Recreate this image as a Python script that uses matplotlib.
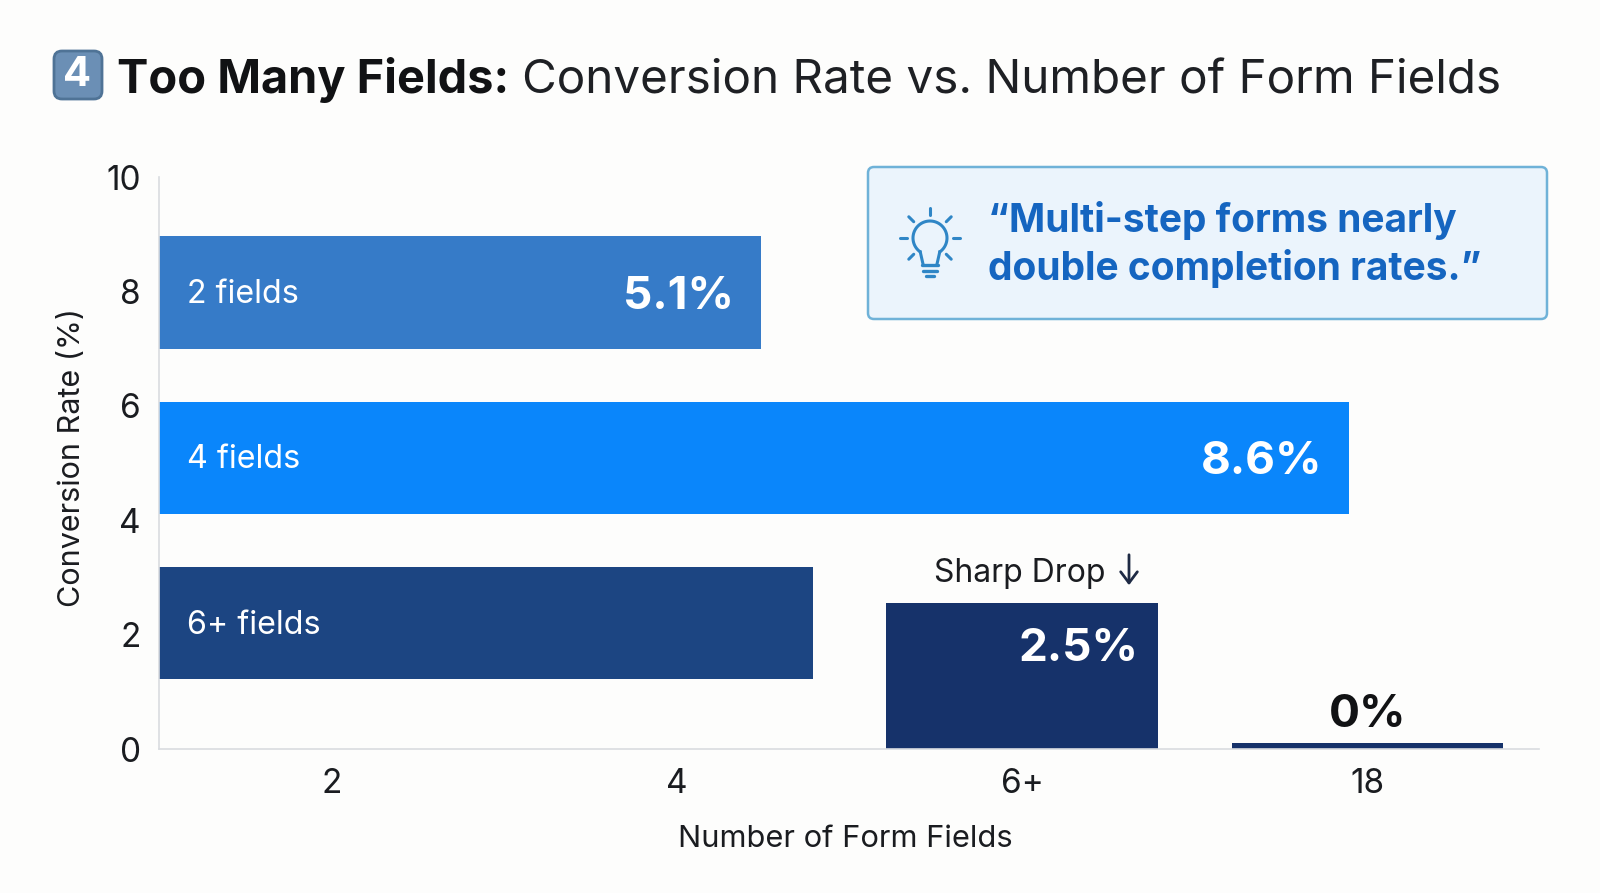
import numpy as np
import matplotlib
matplotlib.use("Agg")
import matplotlib.pyplot as plt
from matplotlib.patches import FancyBboxPatch

plt.rcParams['font.family'] = ['Inter', 'DejaVu Sans']

# column chart
categories = ["2", "4", "6+", "18"]
col_heights = [0, 0, 2.55, 0.1]
col_labels = ["", "", "2.5%", "0%"]
col_colors = ["#16326A", "#16326A", "#16326A", "#16326A"]

# the horizontal bars laid over it (lengths in category units)
row_names = ["2 fields", "4 fields", "6+ fields"]
row_centers = [7.98, 5.09, 2.2]
row_lengths = [1.745, 3.447, 1.895]
row_values = ["5.1%", "8.6%", ""]
row_colors = ["#367BC8", "#0A86FB", "#1C4582"]

y_ticks = [0, 2, 4, 6, 8, 10]
ink = "#1A1C20"
bg = "#FDFDFC"

fig = plt.figure(figsize=(16, 8.93), dpi=100, facecolor=bg)
W, H = 1600, 893

ax = fig.add_axes([159 / W, 1 - 749 / H, (1539 - 159) / W, (749 - 177) / H])
ax.set_facecolor("none")
ax.set_xlim(-0.5, 3.497)
ax.set_ylim(0, 10)

x = np.arange(len(categories))
ax.bar(x, col_heights, width=0.786, color=col_colors)
ax.barh(row_centers, row_lengths, height=1.96, left=-0.5, color=row_colors)

for i, name in enumerate(row_names):
    ax.annotate(name, (-0.5, row_centers[i]), xytext=(28, -2), textcoords="offset pixels",
                color="white", fontsize=23.2, va="center", ha="left")
    if row_values[i]:
        ax.annotate(row_values[i], (-0.5 + row_lengths[i], row_centers[i]), xytext=(-27, -4),
                    textcoords="offset pixels", color="white", fontsize=33, fontweight="bold",
                    va="center", ha="right")

ax.annotate(col_labels[2], (2 + 0.393, col_heights[2]), xytext=(-19, -46), textcoords="offset pixels",
            color="white", fontsize=33, fontweight="bold", va="center", ha="right")
ax.annotate(col_labels[3], (3, col_heights[3]), xytext=(0, 28), textcoords="offset pixels",
            color="#111214", fontsize=33, fontweight="bold", va="center", ha="center")
ax.annotate("Sharp Drop", (2, col_heights[2]), xytext=(-2, 30), textcoords="offset pixels",
            color=ink, fontsize=23, va="center", ha="center")

for s in ["top", "right"]:
    ax.spines[s].set_visible(False)
for s in ["left", "bottom"]:
    ax.spines[s].set_color("#D9DCE0")
    ax.spines[s].set_linewidth(1.2)
ax.set_xticks(x)
ax.set_xticklabels(categories)
ax.set_yticks(y_ticks)
ax.tick_params(length=0, labelsize=24, labelcolor=ink)
ax.tick_params(axis="x", pad=14)
ax.tick_params(axis="y", pad=13)
ax.set_xlabel("Number of Form Fields", fontsize=22.2, color=ink, labelpad=18, x=0.497)
ax.set_ylabel("Conversion Rate (%)", fontsize=22, color=ink, labelpad=14.5, y=0.51)

# everything outside the data: pixel coordinates over the whole figure
ov = fig.add_axes([0, 0, 1, 1], zorder=5)
ov.set_xlim(0, W)
ov.set_ylim(H, 0)
ov.axis("off")

# keycap and title
ov.add_patch(FancyBboxPatch((54, 51), 48, 48, boxstyle="round,pad=0,rounding_size=8",
                            fc="#6B8FB5", ec="#4F7396", lw=2))
ov.text(77.5, 75, "4", color="white", fontsize=30, fontweight="bold", ha="center", va="center")
ov.text(117, 93, "Too Many Fields:", color="#111214", fontsize=33.8, fontweight="bold", va="baseline")
ov.text(522, 93, "Conversion Rate vs. Number of Form Fields", color="#1E2024", fontsize=34.3, va="baseline")

# arrow after Sharp Drop
ov.annotate("", xy=(1129, 588), xytext=(1129, 552),
            arrowprops=dict(arrowstyle="->,head_width=0.6,head_length=0.8", color="#1E2A44", lw=2))

# callout
ov.add_patch(FancyBboxPatch((868, 167), 679, 152, boxstyle="round,pad=0,rounding_size=6",
                            fc="#EBF4FC", ec="#6FB2D8", lw=1.8))
quote = "#1565C0"
ov.text(988, 220, "\u201cMulti-step forms nearly", color=quote, fontsize=28, fontweight="bold", va="center")
ov.text(988, 268, "double completion rates.\u201d", color=quote, fontsize=28, fontweight="bold", va="center")

# light bulb
c = "#2F86C6"
cx, cy = 930, 238
t = np.radians(np.linspace(-55, 235, 60))
ov.plot(cx + 17 * np.cos(t), cy - 17 * np.sin(t), color=c, lw=2.2, solid_capstyle="round")
ov.plot([cx + 17 * np.cos(t[0]), cx + 7], [cy - 17 * np.sin(t[0]), cy + 26], color=c, lw=2.2)
ov.plot([cx + 17 * np.cos(t[-1]), cx - 7], [cy - 17 * np.sin(t[-1]), cy + 26], color=c, lw=2.2)
for dy, hw in [(27, 8), (33, 7), (38, 4)]:
    ov.plot([cx - hw, cx + hw], [cy + dy, cy + dy], color=c, lw=2.4, solid_capstyle="round")
for a in range(0, 360, 45):
    if a == 270:
        continue
    ca, sa = np.cos(np.radians(a)), np.sin(np.radians(a))
    ov.plot([cx + 23 * ca, cx + 30 * ca], [cy - 23 * sa, cy - 30 * sa], color=c, lw=2.2, solid_capstyle="round")

fig.savefig("out.png", dpi=100, facecolor=bg)
